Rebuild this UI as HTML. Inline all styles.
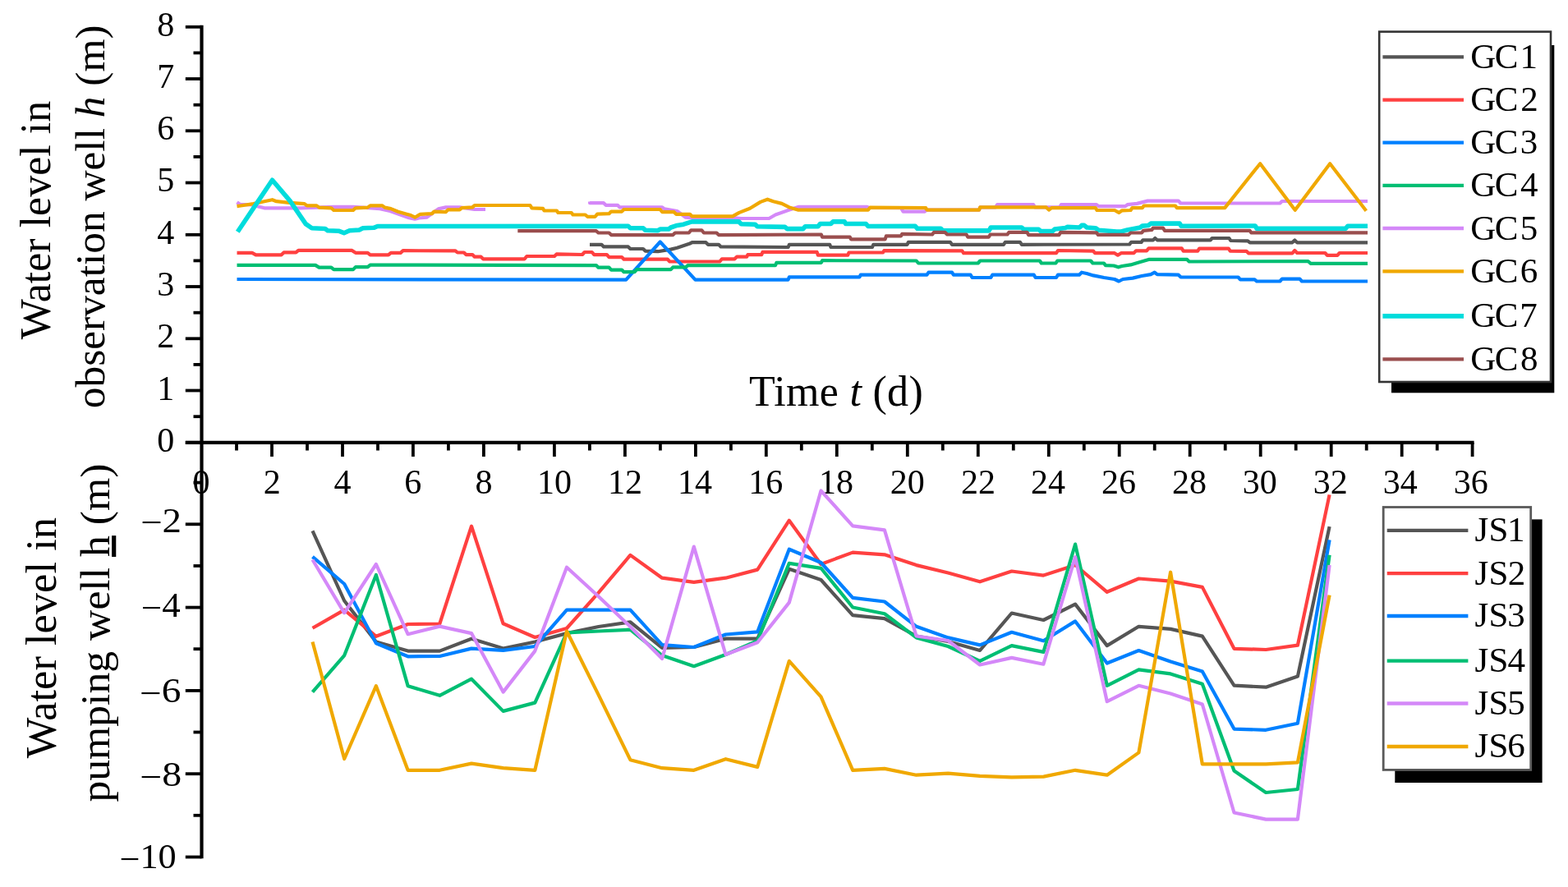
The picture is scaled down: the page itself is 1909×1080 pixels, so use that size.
<!DOCTYPE html>
<html><head><meta charset="utf-8"><title>Water level chart</title>
<style>
html,body{margin:0;padding:0;background:#fff;}
body{width:1909px;height:1080px;overflow:hidden;}
svg{display:block;}
text{font-family:"Liberation Serif", serif;fill:#000;}
.tl{font-size:42px;}
.lg{font-size:43px;}
.tt{font-size:52px;}
</style></head><body>
<svg width="1909" height="1080" viewBox="0 0 1909 1080">
<g>
<rect width="1909" height="1080" fill="#fff"/>
<line x1="245.5" y1="30.8" x2="245.5" y2="1045.3" stroke="#000" stroke-width="4.2"/>
<line x1="225.8" y1="538.8" x2="245.5" y2="538.8" stroke="#000" stroke-width="3.8"/>
<text x="201.7" y="549.76" class="tl" text-anchor="middle">0</text>
<line x1="225.8" y1="475.5" x2="245.5" y2="475.5" stroke="#000" stroke-width="3.8"/>
<text x="201.7" y="486.61" class="tl" text-anchor="middle">1</text>
<line x1="225.8" y1="412.3" x2="245.5" y2="412.3" stroke="#000" stroke-width="3.8"/>
<text x="201.7" y="423.40" class="tl" text-anchor="middle">2</text>
<line x1="225.8" y1="349.0" x2="245.5" y2="349.0" stroke="#000" stroke-width="3.8"/>
<text x="201.7" y="359.95" class="tl" text-anchor="middle">3</text>
<line x1="225.8" y1="285.8" x2="245.5" y2="285.8" stroke="#000" stroke-width="3.8"/>
<text x="201.7" y="296.82" class="tl" text-anchor="middle">4</text>
<line x1="225.8" y1="222.5" x2="245.5" y2="222.5" stroke="#000" stroke-width="3.8"/>
<text x="201.7" y="233.30" class="tl" text-anchor="middle">5</text>
<line x1="225.8" y1="159.3" x2="245.5" y2="159.3" stroke="#000" stroke-width="3.8"/>
<text x="201.7" y="170.20" class="tl" text-anchor="middle">6</text>
<line x1="225.8" y1="96.0" x2="245.5" y2="96.0" stroke="#000" stroke-width="3.8"/>
<text x="201.7" y="107.00" class="tl" text-anchor="middle">7</text>
<line x1="225.8" y1="32.8" x2="245.5" y2="32.8" stroke="#000" stroke-width="3.8"/>
<text x="201.7" y="43.76" class="tl" text-anchor="middle">8</text>
<line x1="235.5" y1="507.2" x2="245.5" y2="507.2" stroke="#000" stroke-width="3.8"/>
<line x1="235.5" y1="443.9" x2="245.5" y2="443.9" stroke="#000" stroke-width="3.8"/>
<line x1="235.5" y1="380.7" x2="245.5" y2="380.7" stroke="#000" stroke-width="3.8"/>
<line x1="235.5" y1="317.4" x2="245.5" y2="317.4" stroke="#000" stroke-width="3.8"/>
<line x1="235.5" y1="254.2" x2="245.5" y2="254.2" stroke="#000" stroke-width="3.8"/>
<line x1="235.5" y1="190.9" x2="245.5" y2="190.9" stroke="#000" stroke-width="3.8"/>
<line x1="235.5" y1="127.7" x2="245.5" y2="127.7" stroke="#000" stroke-width="3.8"/>
<line x1="235.5" y1="64.4" x2="245.5" y2="64.4" stroke="#000" stroke-width="3.8"/>
<line x1="225.8" y1="638.3" x2="245.5" y2="638.3" stroke="#000" stroke-width="3.8"/>
<line x1="225.8" y1="739.6" x2="245.5" y2="739.6" stroke="#000" stroke-width="3.8"/>
<line x1="225.8" y1="840.9" x2="245.5" y2="840.9" stroke="#000" stroke-width="3.8"/>
<line x1="225.8" y1="942.2" x2="245.5" y2="942.2" stroke="#000" stroke-width="3.8"/>
<line x1="225.8" y1="1043.5" x2="245.5" y2="1043.5" stroke="#000" stroke-width="3.8"/>
<line x1="235.5" y1="587.6" x2="245.5" y2="587.6" stroke="#000" stroke-width="3.8"/>
<line x1="235.5" y1="689.0" x2="245.5" y2="689.0" stroke="#000" stroke-width="3.8"/>
<line x1="235.5" y1="790.2" x2="245.5" y2="790.2" stroke="#000" stroke-width="3.8"/>
<line x1="235.5" y1="891.5" x2="245.5" y2="891.5" stroke="#000" stroke-width="3.8"/>
<line x1="235.5" y1="992.8" x2="245.5" y2="992.8" stroke="#000" stroke-width="3.8"/>
<text transform="translate(171.16,647.50) scale(1.1173,1)" class="tl" style="font-size:42px"><tspan dy="2.4">−</tspan><tspan dy="-2.4">2</tspan></text>
<text transform="translate(171.76,751.32) scale(1.0730,1)" class="tl" style="font-size:42px"><tspan dy="2.4">−</tspan><tspan dy="-2.4">4</tspan></text>
<text transform="translate(170.04,855.30) scale(1.1271,1)" class="tl" style="font-size:42px"><tspan dy="2.4">−</tspan><tspan dy="-2.4">6</tspan></text>
<text transform="translate(170.22,957.46) scale(1.1392,1)" class="tl" style="font-size:42px"><tspan dy="2.4">−</tspan><tspan dy="-2.4">8</tspan></text>
<text transform="translate(145.49,1057.46) scale(1.0549,1)" class="tl" style="font-size:42px"><tspan dy="2.4">−</tspan><tspan dy="-2.4">10</tspan></text>
<line x1="225.8" y1="538.9" x2="1794.6" y2="538.9" stroke="#000" stroke-width="4.2"/>
<text x="245.00" y="601.26" class="tl" text-anchor="middle">0</text>
<line x1="288.0" y1="538.9" x2="288.0" y2="548.5" stroke="#000" stroke-width="3.8"/>
<line x1="331.0" y1="538.9" x2="331.0" y2="556" stroke="#000" stroke-width="3.8"/>
<text x="331.22" y="601.40" class="tl" text-anchor="middle">2</text>
<line x1="374.0" y1="538.9" x2="374.0" y2="548.5" stroke="#000" stroke-width="3.8"/>
<line x1="417.0" y1="538.9" x2="417.0" y2="556" stroke="#000" stroke-width="3.8"/>
<text x="416.88" y="601.32" class="tl" text-anchor="middle">4</text>
<line x1="460.0" y1="538.9" x2="460.0" y2="548.5" stroke="#000" stroke-width="3.8"/>
<line x1="502.9" y1="538.9" x2="502.9" y2="556" stroke="#000" stroke-width="3.8"/>
<text x="502.66" y="601.20" class="tl" text-anchor="middle">6</text>
<line x1="545.9" y1="538.9" x2="545.9" y2="548.5" stroke="#000" stroke-width="3.8"/>
<line x1="588.9" y1="538.9" x2="588.9" y2="556" stroke="#000" stroke-width="3.8"/>
<text x="588.92" y="601.26" class="tl" text-anchor="middle">8</text>
<line x1="631.9" y1="538.9" x2="631.9" y2="548.5" stroke="#000" stroke-width="3.8"/>
<line x1="674.9" y1="538.9" x2="674.9" y2="556" stroke="#000" stroke-width="3.8"/>
<text x="674.95" y="601.26" class="tl" text-anchor="middle">10</text>
<line x1="717.9" y1="538.9" x2="717.9" y2="548.5" stroke="#000" stroke-width="3.8"/>
<line x1="760.9" y1="538.9" x2="760.9" y2="556" stroke="#000" stroke-width="3.8"/>
<text x="761.10" y="601.40" class="tl" text-anchor="middle">12</text>
<line x1="803.9" y1="538.9" x2="803.9" y2="548.5" stroke="#000" stroke-width="3.8"/>
<line x1="846.9" y1="538.9" x2="846.9" y2="556" stroke="#000" stroke-width="3.8"/>
<text x="846.06" y="601.36" class="tl" text-anchor="middle">14</text>
<line x1="889.9" y1="538.9" x2="889.9" y2="548.5" stroke="#000" stroke-width="3.8"/>
<line x1="932.8" y1="538.9" x2="932.8" y2="556" stroke="#000" stroke-width="3.8"/>
<text x="932.14" y="601.20" class="tl" text-anchor="middle">16</text>
<line x1="975.8" y1="538.9" x2="975.8" y2="548.5" stroke="#000" stroke-width="3.8"/>
<line x1="1018.8" y1="538.9" x2="1018.8" y2="556" stroke="#000" stroke-width="3.8"/>
<text x="1018.10" y="601.26" class="tl" text-anchor="middle">18</text>
<line x1="1061.8" y1="538.9" x2="1061.8" y2="548.5" stroke="#000" stroke-width="3.8"/>
<line x1="1104.8" y1="538.9" x2="1104.8" y2="556" stroke="#000" stroke-width="3.8"/>
<text x="1104.82" y="601.26" class="tl" text-anchor="middle">20</text>
<line x1="1147.8" y1="538.9" x2="1147.8" y2="548.5" stroke="#000" stroke-width="3.8"/>
<line x1="1190.8" y1="538.9" x2="1190.8" y2="556" stroke="#000" stroke-width="3.8"/>
<text x="1190.96" y="601.40" class="tl" text-anchor="middle">22</text>
<line x1="1233.8" y1="538.9" x2="1233.8" y2="548.5" stroke="#000" stroke-width="3.8"/>
<line x1="1276.8" y1="538.9" x2="1276.8" y2="556" stroke="#000" stroke-width="3.8"/>
<text x="1275.92" y="601.40" class="tl" text-anchor="middle">24</text>
<line x1="1319.8" y1="538.9" x2="1319.8" y2="548.5" stroke="#000" stroke-width="3.8"/>
<line x1="1362.7" y1="538.9" x2="1362.7" y2="556" stroke="#000" stroke-width="3.8"/>
<text x="1362.00" y="601.20" class="tl" text-anchor="middle">26</text>
<line x1="1405.7" y1="538.9" x2="1405.7" y2="548.5" stroke="#000" stroke-width="3.8"/>
<line x1="1448.7" y1="538.9" x2="1448.7" y2="556" stroke="#000" stroke-width="3.8"/>
<text x="1447.97" y="601.26" class="tl" text-anchor="middle">28</text>
<line x1="1491.7" y1="538.9" x2="1491.7" y2="548.5" stroke="#000" stroke-width="3.8"/>
<line x1="1534.7" y1="538.9" x2="1534.7" y2="556" stroke="#000" stroke-width="3.8"/>
<text x="1533.67" y="601.26" class="tl" text-anchor="middle">30</text>
<line x1="1577.7" y1="538.9" x2="1577.7" y2="548.5" stroke="#000" stroke-width="3.8"/>
<line x1="1620.7" y1="538.9" x2="1620.7" y2="556" stroke="#000" stroke-width="3.8"/>
<text x="1619.82" y="601.20" class="tl" text-anchor="middle">32</text>
<line x1="1663.7" y1="538.9" x2="1663.7" y2="548.5" stroke="#000" stroke-width="3.8"/>
<line x1="1706.7" y1="538.9" x2="1706.7" y2="556" stroke="#000" stroke-width="3.8"/>
<text x="1704.77" y="601.20" class="tl" text-anchor="middle">34</text>
<line x1="1749.7" y1="538.9" x2="1749.7" y2="548.5" stroke="#000" stroke-width="3.8"/>
<line x1="1792.6" y1="538.9" x2="1792.6" y2="556" stroke="#000" stroke-width="3.8"/>
<text x="1790.86" y="601.20" class="tl" text-anchor="middle">36</text>
<polyline points="718.0,297.8 732.4,297.8 735.0,300.4 764.8,300.4 767.4,303.0 783.0,303.0 785.6,305.6 801.1,306.2 816.7,303.6 824.4,301.7 840.0,296.5 842.6,295.2 859.4,295.2 862.0,297.8 875.0,297.8 877.6,300.4 959.6,301.0 960.9,297.8 1010.2,297.8 1011.5,301.0 1062.0,301.0 1063.3,297.8 1104.5,297.8 1106.0,294.8 1157.0,294.9 1159.0,297.8 1221.9,297.8 1223.8,294.9 1242.0,294.9 1243.9,297.8 1375.2,297.5 1377.1,294.9 1389.5,294.9 1391.4,292.3 1404.0,292.3 1406.3,290.0 1408.9,292.3 1473.7,292.3 1475.7,290.0 1496.4,290.0 1498.3,293.0 1519.2,293.3 1521.7,295.3 1573.3,295.3 1576.3,292.5 1579.2,295.3 1665.0,295.3" fill="none" stroke="#555555" stroke-width="4.2" stroke-linejoin="round" stroke-linecap="butt"/>
<polyline points="288.5,307.8 307.0,307.8 311.5,310.3 342.6,310.3 345.5,307.4 360.3,307.4 363.3,304.9 428.5,304.9 432.9,307.8 447.7,307.8 450.7,310.3 472.9,310.3 475.9,307.8 487.7,307.8 490.7,305.2 554.4,305.3 557.0,307.5 564.8,307.5 567.4,310.1 575.2,310.1 577.8,312.7 585.6,312.7 588.2,315.3 638.7,315.3 641.3,312.0 675.0,312.0 677.6,309.4 709.0,310.0 711.7,307.0 720.7,307.0 723.3,310.1 738.9,310.1 741.5,313.1 757.0,313.1 759.6,315.7 812.8,315.7 815.4,318.5 876.3,318.5 878.9,315.3 894.4,315.3 897.0,312.7 909.1,312.7 910.4,310.1 927.2,310.1 928.5,306.9 994.6,306.9 995.9,310.7 1032.2,310.7 1033.5,307.5 1075.0,307.5 1076.3,305.2 1171.3,305.4 1173.2,308.2 1286.0,308.2 1288.0,305.0 1331.1,305.6 1333.1,308.2 1357.0,308.2 1360.9,310.7 1364.8,308.2 1380.4,308.2 1383.0,305.3 1396.0,305.3 1398.5,302.3 1438.7,302.3 1440.7,305.6 1458.2,305.6 1460.1,302.7 1495.8,302.7 1497.7,305.6 1517.5,305.8 1520.0,308.3 1573.3,308.3 1576.3,305.0 1579.2,308.0 1613.3,308.0 1615.8,310.8 1628.3,310.8 1630.8,308.0 1665.0,308.0" fill="none" stroke="#FF4040" stroke-width="4.2" stroke-linejoin="round" stroke-linecap="butt"/>
<polyline points="288.5,340.0 762.2,340.6 803.7,294.5 846.5,340.6 959.6,340.6 960.9,337.3 1046.5,337.3 1047.8,334.7 1128.5,334.7 1130.5,331.7 1159.0,331.7 1160.9,334.7 1181.7,334.7 1183.6,338.0 1206.3,338.0 1208.2,334.7 1258.8,334.7 1260.7,338.0 1286.0,338.0 1288.0,334.7 1313.9,334.7 1316.9,331.7 1323.0,333.0 1331.1,335.4 1344.1,338.0 1357.0,340.0 1362.2,342.5 1367.0,340.0 1379.1,338.6 1390.0,336.0 1401.1,334.1 1405.7,331.7 1408.9,334.1 1434.8,334.7 1437.4,337.3 1507.5,337.5 1510.0,340.3 1527.5,340.3 1530.0,342.5 1558.3,342.5 1560.8,339.7 1582.5,339.7 1585.0,342.5 1665.0,342.5" fill="none" stroke="#0080FF" stroke-width="4.2" stroke-linejoin="round" stroke-linecap="butt"/>
<polyline points="288.5,322.9 384.0,322.9 388.5,325.6 403.3,325.6 406.3,328.1 430.0,328.1 432.9,325.1 447.7,325.1 450.7,322.6 725.9,323.1 728.5,325.7 741.5,325.7 744.1,328.6 757.0,328.6 759.6,331.2 772.6,331.2 775.2,328.2 816.7,328.2 819.3,325.3 834.8,325.3 837.4,323.1 944.1,323.1 945.4,319.8 999.8,319.8 1001.1,317.2 1115.6,317.5 1118.1,320.5 1190.7,320.5 1193.3,317.5 1265.9,317.5 1267.9,320.5 1285.4,320.5 1287.3,317.5 1327.9,317.5 1330.5,320.5 1344.0,320.5 1346.0,323.1 1356.0,323.5 1361.6,325.3 1366.0,324.0 1376.5,322.4 1385.6,319.8 1398.5,315.9 1445.2,315.9 1447.8,318.5 1592.5,318.0 1595.8,320.8 1665.0,320.8" fill="none" stroke="#00BE73" stroke-width="4.2" stroke-linejoin="round" stroke-linecap="butt"/>
<polyline points="288.5,246.2 292.0,248.8 308.0,249.5 314.4,251.5 321.8,253.3 366.3,253.3 406.3,251.8 430.0,251.8 462.5,254.1 475.0,257.0 498.0,265.2 505.0,266.7 509.9,265.5 519.4,264.7 533.7,254.4 542.8,252.4 559.6,252.4 577.8,255.0 591.0,255.0" fill="none" stroke="#D488F8" stroke-width="4.2" stroke-linejoin="round" stroke-linecap="butt"/>
<polyline points="718.1,245.5 718.1,247.2 735.0,247.2 737.6,249.8 751.9,249.8 754.4,252.4 806.3,252.4 808.9,254.4 824.4,257.0 834.8,264.7 842.6,265.4 894.4,265.4 902.2,266.0 936.3,266.0 944.1,261.5 960.9,255.6 972.6,251.8 1055.6,251.8 1058.0,253.0 1097.0,253.2 1099.6,257.6 1125.9,257.6 1128.0,255.6 1192.0,255.6 1193.3,252.4 1212.0,252.4 1214.1,249.2 1258.2,249.2 1260.0,252.4 1290.0,252.4 1291.9,249.2 1335.0,249.2 1337.6,251.1 1370.0,251.1 1372.6,249.2 1384.3,247.9 1397.2,244.6 1434.8,244.6 1437.4,247.5 1558.3,247.5 1560.8,245.0 1665.0,245.0" fill="none" stroke="#D488F8" stroke-width="4.2" stroke-linejoin="round" stroke-linecap="butt"/>
<polyline points="288.5,251.1 293.0,250.5 308.5,248.1 321.8,245.2 331.5,243.2 336.6,245.2 350.0,246.7 370.7,248.1 373.7,250.4 385.5,250.4 388.5,252.6 403.3,253.3 406.3,256.0 430.0,256.0 432.9,253.3 447.7,252.6 450.7,250.4 465.5,250.4 468.5,252.6 475.9,254.1 484.7,257.8 495.1,260.7 500.0,262.0 505.2,264.7 511.7,260.8 525.9,260.2 528.5,257.6 542.8,258.2 545.4,255.3 559.6,255.3 562.2,253.1 575.2,252.4 577.8,250.0 645.5,250.0 647.5,253.3 661.0,253.8 662.5,256.5 677.8,256.5 679.5,259.0 695.7,259.0 697.5,261.5 712.6,261.5 715.2,263.8 724.6,263.8 727.2,260.6 741.5,260.2 744.1,257.6 757.0,257.6 759.6,255.0 803.7,255.0 806.3,258.2 820.6,258.2 823.2,260.8 840.0,260.8 842.6,263.4 891.9,263.4 900.0,258.9 913.0,253.7 925.9,245.9 934.4,242.7 941.5,245.3 951.9,247.9 960.9,252.4 971.3,255.6 1056.9,255.6 1059.4,252.6 1127.2,253.1 1128.5,255.6 1192.0,255.6 1193.3,252.4 1273.7,252.4 1277.0,255.6 1280.2,253.1 1333.7,253.1 1335.6,256.0 1357.0,256.0 1362.2,258.9 1366.1,256.3 1376.5,256.0 1378.4,253.1 1390.7,253.1 1392.7,250.5 1430.9,250.5 1432.9,253.1 1491.2,253.1 1534.2,199.2 1576.7,255.8 1619.2,199.2 1663.3,256.7" fill="none" stroke="#F0A800" stroke-width="4.2" stroke-linejoin="round" stroke-linecap="butt"/>
<polyline points="289.3,282.2 331.5,219.3 352.9,244.4 372.2,272.6 379.6,277.8 395.9,278.5 398.9,280.7 412.2,281.2 418.8,283.7 425.5,280.7 437.4,280.0 441.8,277.8 455.1,277.3 459.6,275.5 764.8,275.3 767.4,277.7 783.0,277.7 785.6,280.3 801.1,280.7 803.7,279.0 814.1,279.0 816.7,277.0 824.4,274.4 832.2,273.2 840.0,270.6 842.6,269.9 899.6,269.9 902.4,272.7 919.4,273.2 922.0,275.7 955.7,276.4 958.3,278.6 977.8,278.6 980.4,275.7 995.9,275.7 998.5,272.5 1011.5,272.5 1014.1,269.9 1028.3,269.9 1029.6,272.5 1054.3,272.5 1056.9,275.5 1114.3,275.4 1116.9,278.3 1145.4,278.3 1148.0,280.9 1204.0,280.9 1206.3,277.0 1243.9,277.0 1246.5,279.4 1264.6,279.4 1267.2,281.6 1281.5,281.6 1284.1,279.0 1297.0,277.5 1299.6,276.4 1314.3,277.0 1316.9,274.4 1320.0,274.4 1323.3,277.0 1333.7,277.7 1337.6,280.3 1359.6,282.0 1365.0,282.0 1372.6,279.9 1388.2,277.0 1390.7,275.1 1398.0,274.5 1401.1,272.1 1436.1,272.1 1438.1,275.3 1528.3,275.0 1530.0,278.3 1638.3,278.3 1640.8,275.3 1665.0,275.3" fill="none" stroke="#00DCDC" stroke-width="5.6" stroke-linejoin="round" stroke-linecap="butt"/>
<polyline points="630.3,281.2 725.9,281.2 728.5,283.5 741.5,283.5 744.1,286.1 819.3,286.1 821.9,283.5 838.7,283.5 841.3,280.3 854.3,280.3 856.9,283.5 872.4,283.5 875.0,286.1 999.8,285.5 1001.1,288.7 1034.8,288.7 1036.1,291.3 1077.6,291.3 1078.9,287.4 1097.0,287.4 1098.3,284.8 1135.0,285.5 1136.9,282.9 1150.6,282.9 1153.2,285.5 1176.5,285.5 1178.4,288.7 1203.7,288.7 1205.7,285.5 1226.4,285.5 1228.3,282.9 1250.4,282.9 1252.3,286.1 1289.3,286.1 1291.2,282.9 1335.0,283.3 1336.9,285.9 1373.9,285.9 1376.5,283.5 1390.0,283.5 1392.0,280.9 1402.4,279.9 1403.7,277.7 1416.0,277.7 1418.0,280.9 1521.7,280.8 1523.3,283.3 1665.0,283.3" fill="none" stroke="#9A4E4E" stroke-width="4.2" stroke-linejoin="round" stroke-linecap="butt"/>
<polyline points="380.5,646.3 419.2,731.5 457.9,781.5 496.6,792.6 535.3,792.6 574.0,777.8 612.6,789.6 651.3,781.5 690.0,771.1 728.7,763.0 767.4,757.4 806.1,788.9 844.8,788.0 883.5,777.6 922.2,777.6 960.8,692.8 999.5,706.0 1038.2,749.2 1076.9,753.1 1115.6,774.5 1154.3,781.0 1193.0,792.0 1231.7,746.5 1270.4,755.0 1309.1,735.6 1347.8,786.1 1386.4,762.8 1425.1,765.9 1463.8,774.6 1502.5,834.6 1541.2,836.7 1579.9,823.6 1618.6,641.1" fill="none" stroke="#555555" stroke-width="4.2" stroke-linejoin="round" stroke-linecap="butt"/>
<polyline points="380.5,764.8 419.2,742.6 457.9,774.8 496.6,760.0 535.3,759.5 574.0,640.7 612.6,759.3 651.3,776.0 690.0,765.0 728.7,721.7 767.4,675.9 806.1,703.7 844.8,708.8 883.5,703.7 922.2,693.6 960.8,633.7 999.5,687.0 1038.2,672.6 1076.9,675.3 1115.6,688.1 1154.3,697.5 1193.0,708.3 1231.7,695.5 1270.4,700.6 1309.1,688.0 1347.8,720.8 1386.4,704.5 1425.1,707.6 1463.8,714.9 1502.5,789.8 1541.2,791.0 1579.9,785.7 1618.6,602.4" fill="none" stroke="#FF4040" stroke-width="4.2" stroke-linejoin="round" stroke-linecap="butt"/>
<polyline points="380.5,677.8 419.2,711.0 457.9,783.3 496.6,799.3 535.3,799.0 574.0,789.6 612.6,791.9 651.3,787.0 690.0,742.6 728.7,742.6 767.4,742.6 806.1,785.2 844.8,788.0 883.5,772.5 922.2,769.4 960.8,668.7 999.5,685.0 1038.2,727.8 1076.9,732.5 1115.6,762.8 1154.3,776.4 1193.0,785.4 1231.7,769.8 1270.4,780.3 1309.1,756.4 1347.8,807.5 1386.4,792.0 1425.1,805.6 1463.8,817.4 1502.5,887.6 1541.2,888.8 1579.9,880.7 1618.6,657.4" fill="none" stroke="#0080FF" stroke-width="4.2" stroke-linejoin="round" stroke-linecap="butt"/>
<polyline points="380.5,842.6 419.2,798.1 457.9,700.0 496.6,835.2 535.3,846.8 574.0,826.7 612.6,865.9 651.3,855.6 690.0,770.4 728.7,768.5 767.4,766.7 806.1,798.1 844.8,811.2 883.5,797.0 922.2,780.3 960.8,685.8 999.5,691.8 1038.2,739.5 1076.9,747.2 1115.6,776.4 1154.3,787.0 1193.0,804.8 1231.7,786.1 1270.4,793.9 1309.1,662.6 1347.8,834.8 1386.4,815.3 1425.1,820.4 1463.8,832.7 1502.5,938.5 1541.2,965.0 1579.9,961.0 1618.6,675.7" fill="none" stroke="#00BE73" stroke-width="4.2" stroke-linejoin="round" stroke-linecap="butt"/>
<polyline points="380.5,681.5 419.2,746.3 457.9,687.0 496.6,772.2 535.3,762.6 574.0,771.1 612.6,842.6 651.3,792.6 690.0,690.7 728.7,726.3 767.4,763.0 806.1,801.9 844.8,665.6 883.5,797.0 922.2,782.3 960.8,733.6 999.5,597.5 1038.2,640.3 1076.9,645.3 1115.6,774.5 1154.3,780.0 1193.0,809.5 1231.7,800.9 1270.4,808.7 1309.1,678.2 1347.8,854.2 1386.4,834.8 1425.1,844.5 1463.8,857.5 1502.5,989.5 1541.2,997.6 1579.9,997.6 1618.6,688.0" fill="none" stroke="#D488F8" stroke-width="4.2" stroke-linejoin="round" stroke-linecap="butt"/>
<polyline points="380.5,781.5 419.2,924.0 457.9,835.2 496.6,937.8 535.3,937.8 574.0,929.6 612.6,935.2 651.3,937.8 690.0,768.5 728.7,846.1 767.4,925.2 806.1,935.2 844.8,937.8 883.5,924.2 922.2,933.9 960.8,804.8 999.5,848.4 1038.2,937.8 1076.9,935.9 1115.6,943.7 1154.3,941.7 1193.0,944.8 1231.7,946.4 1270.4,945.6 1309.1,937.8 1347.8,943.7 1386.4,916.4 1425.1,696.7 1463.8,930.4 1502.5,930.4 1541.2,930.4 1579.9,928.3 1618.6,724.6" fill="none" stroke="#F0A800" stroke-width="4.2" stroke-linejoin="round" stroke-linecap="butt"/>
<rect x="1694" y="55" width="198.3" height="423.3" fill="#000"/>
<rect x="1679.2" y="38.6" width="208.8" height="426.4" fill="#fff" stroke="#333" stroke-width="2.6"/>
<line x1="1683.4" y1="69.4" x2="1782" y2="69.4" stroke="#555555" stroke-width="4.3"/>
<text class="lg"><tspan x="1790.14" y="82.93">G</tspan><tspan x="1819.84" y="82.93">C</tspan><tspan x="1850.45" y="82.93">1</tspan></text>
<line x1="1683.4" y1="121.6" x2="1782" y2="121.6" stroke="#FF4040" stroke-width="4.3"/>
<text class="lg"><tspan x="1790.14" y="135.13">G</tspan><tspan x="1819.84" y="135.13">C</tspan><tspan x="1851.29" y="135.13">2</tspan></text>
<line x1="1683.4" y1="173.6" x2="1782" y2="173.6" stroke="#0080FF" stroke-width="4.3"/>
<text class="lg"><tspan x="1790.14" y="187.13">G</tspan><tspan x="1819.84" y="187.13">C</tspan><tspan x="1850.86" y="187.13">3</tspan></text>
<line x1="1683.4" y1="225.8" x2="1782" y2="225.8" stroke="#00BE73" stroke-width="4.3"/>
<text class="lg"><tspan x="1790.14" y="239.33">G</tspan><tspan x="1819.84" y="239.33">C</tspan><tspan x="1850.97" y="239.33">4</tspan></text>
<line x1="1683.4" y1="278" x2="1782" y2="278" stroke="#D488F8" stroke-width="4.3"/>
<text class="lg"><tspan x="1790.14" y="291.53">G</tspan><tspan x="1819.84" y="291.53">C</tspan><tspan x="1850.64" y="291.53">5</tspan></text>
<line x1="1683.4" y1="330.3" x2="1782" y2="330.3" stroke="#F0A800" stroke-width="4.3"/>
<text class="lg"><tspan x="1790.14" y="343.83">G</tspan><tspan x="1819.84" y="343.83">C</tspan><tspan x="1850.77" y="343.83">6</tspan></text>
<line x1="1683.4" y1="384.9" x2="1782" y2="384.9" stroke="#00DCDC" stroke-width="5.8"/>
<text class="lg"><tspan x="1790.14" y="398.43">G</tspan><tspan x="1819.84" y="398.43">C</tspan><tspan x="1850.25" y="398.43">7</tspan></text>
<line x1="1683.4" y1="437.4" x2="1782" y2="437.4" stroke="#9A4E4E" stroke-width="4.3"/>
<text class="lg"><tspan x="1790.14" y="450.93">G</tspan><tspan x="1819.84" y="450.93">C</tspan><tspan x="1851.05" y="450.93">8</tspan></text>
<rect x="1698.3" y="632.4" width="179.3" height="320.6" fill="#000"/>
<rect x="1684.2" y="617.5" width="179.5" height="319.9" fill="#fff" stroke="#5a5a5a" stroke-width="2.8"/>
<line x1="1688.7" y1="645.8" x2="1787.4" y2="645.8" stroke="#555555" stroke-width="4.3"/>
<text class="lg"><tspan x="1795.40" y="659.23">J</tspan><tspan x="1812.42" y="659.23">S</tspan><tspan x="1834.95" y="659.23">1</tspan></text>
<line x1="1688.7" y1="698.1" x2="1787.4" y2="698.1" stroke="#FF4040" stroke-width="4.3"/>
<text class="lg"><tspan x="1795.40" y="711.53">J</tspan><tspan x="1812.42" y="711.53">S</tspan><tspan x="1835.79" y="711.53">2</tspan></text>
<line x1="1688.7" y1="750.0" x2="1787.4" y2="750.0" stroke="#0080FF" stroke-width="4.3"/>
<text class="lg"><tspan x="1795.40" y="763.43">J</tspan><tspan x="1812.42" y="763.43">S</tspan><tspan x="1835.36" y="763.43">3</tspan></text>
<line x1="1688.7" y1="804.6" x2="1787.4" y2="804.6" stroke="#00BE73" stroke-width="4.3"/>
<text class="lg"><tspan x="1795.40" y="818.03">J</tspan><tspan x="1812.42" y="818.03">S</tspan><tspan x="1835.47" y="818.03">4</tspan></text>
<line x1="1688.7" y1="856.5" x2="1787.4" y2="856.5" stroke="#D488F8" stroke-width="4.3"/>
<text class="lg"><tspan x="1795.40" y="869.93">J</tspan><tspan x="1812.42" y="869.93">S</tspan><tspan x="1835.14" y="869.93">5</tspan></text>
<line x1="1688.7" y1="909.0" x2="1787.4" y2="909.0" stroke="#F0A800" stroke-width="4.3"/>
<text class="lg"><tspan x="1795.40" y="922.43">J</tspan><tspan x="1812.42" y="922.43">S</tspan><tspan x="1835.27" y="922.43">6</tspan></text>
<text x="912" y="494.3" class="tt" style="letter-spacing:0.3px">Time <tspan font-style="italic">t</tspan> (d)</text>
<text transform="translate(60.6,268) rotate(-90)" class="tt" text-anchor="middle">Water level in</text>
<text transform="translate(126.7,263.8) rotate(-90)" class="tt" text-anchor="middle" style="font-size:51.4px">observation well <tspan font-style="italic">h</tspan> (m)</text>
<text transform="translate(68.3,776.6) rotate(-90)" class="tt" text-anchor="middle" style="font-size:52.5px">Water level in</text>
<text transform="translate(133.1,770.6) rotate(-90)" class="tt" text-anchor="middle" style="font-size:51.7px">pumping well <tspan text-decoration="underline">h</tspan> (m)</text>
</g>
</svg>
</body></html>
